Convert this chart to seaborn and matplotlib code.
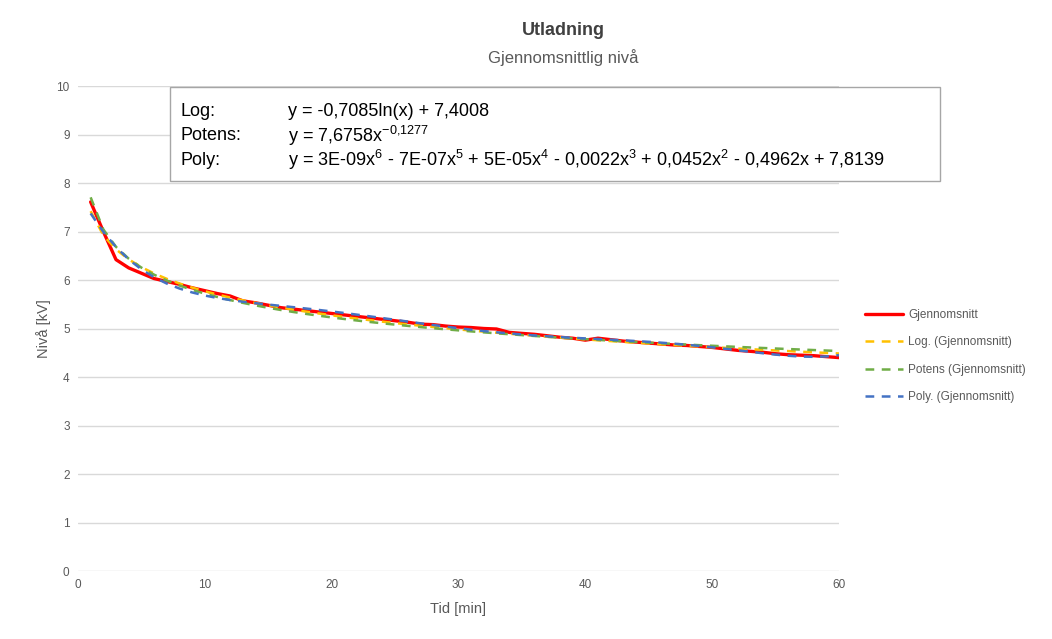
import numpy as np
import pandas as pd
import matplotlib
matplotlib.use("Agg")
import matplotlib.pyplot as plt
import seaborn as sns

# average level per minute
minutes = list(range(1, 61))
avg_level = [7.61, 7.00, 6.42, 6.25, 6.14, 6.03, 5.97, 5.91, 5.84, 5.78,
             5.72, 5.67, 5.57, 5.53, 5.48, 5.43, 5.40, 5.37, 5.34, 5.31,
             5.28, 5.25, 5.22, 5.19, 5.16, 5.13, 5.09, 5.08, 5.05, 5.03,
             5.02, 5.00, 4.99, 4.92, 4.90, 4.88, 4.85, 4.82, 4.80, 4.76,
             4.80, 4.77, 4.74, 4.72, 4.70, 4.68, 4.66, 4.65, 4.63, 4.61,
             4.58, 4.55, 4.53, 4.51, 4.48, 4.46, 4.45, 4.44, 4.42, 4.40]

series_names = ["Gjennomsnitt", "Log. (Gjennomsnitt)",
                "Potens (Gjennomsnitt)", "Poly. (Gjennomsnitt)"]
colors = ["#FF0000", "#FFC000", "#70AD47", "#4472C4"]
x_ticks = [0, 10, 20, 30, 40, 50, 60]
y_ticks = list(range(0, 11))

sns.set_theme(style="white")
plt.rcParams['font.family'] = ['Liberation Sans', 'DejaVu Sans']
plt.rcParams['mathtext.default'] = 'regular'

x = np.array(minutes, dtype=float)
y = np.array(avg_level)

# trend lines fitted to the data, as the spreadsheet does
a_log, b_log = np.polyfit(np.log(x), y, 1)
p_pow, lnk = np.polyfit(np.log(x), np.log(y), 1)
poly = np.polyfit(x, y, 6)

df = pd.DataFrame({
    "Tid": np.tile(x, 4),
    "Niva": np.concatenate([y,
                            a_log * np.log(x) + b_log,
                            np.exp(lnk) * x ** p_pow,
                            np.polyval(poly, x)]),
    "Serie": np.repeat(series_names, len(x)),
})

fig = plt.figure(figsize=(10.52, 6.39), dpi=100)
ax = fig.add_axes([0.0741, 0.1064, 0.7234, 0.759])

palette = dict(zip(series_names, colors))
for name in series_names:
    sub = df[df["Serie"] == name]
    if name == "Gjennomsnitt":
        sns.lineplot(data=sub, x="Tid", y="Niva", color=palette[name], lw=2.4,
                     label=name, ax=ax, zorder=2)
    else:
        sns.lineplot(data=sub, x="Tid", y="Niva", color=palette[name], lw=1.8,
                     label=name, ax=ax, zorder=3, dashes=False,
                     linestyle=(0, (3.5, 3)))

ax.set_xlim(0, 60)
ax.set_ylim(0, 10)
ax.set_xticks(x_ticks)
ax.set_yticks(y_ticks)
ax.tick_params(axis="both", colors="#595959", labelsize=8.5, length=0, pad=6)
ax.yaxis.grid(True, color="#D9D9D9", lw=1)
ax.xaxis.grid(False)
for s in ax.spines.values():
    s.set_visible(False)
ax.set_xlabel("Tid [min]", color="#595959", fontsize=10.5, labelpad=8)
ax.set_ylabel("Nivå [kV]", color="#595959", fontsize=10.5, labelpad=4)

fig.text(0.5357, 0.953, "Utladning", ha="center", va="center",
         fontsize=13, fontweight="bold", color="#404040")
fig.text(0.5357, 0.910, "Gjennomsnittlig nivå", ha="center", va="center",
         fontsize=12, color="#595959")

# equation box
eq_rows = [("Log:", "y = -0,7085ln(x) + 7,4008"),
           ("Potens:", "y = 7,6758x$^{-0{,}1277}$"),
           ("Poly:", "y = 3E-09x$^{6}$ - 7E-07x$^{5}$ + 5E-05x$^{4}$ - 0,0022x$^{3}$ + 0,0452x$^{2}$ - 0,4962x + 7,8139")]
box = plt.Rectangle((170 / 1052, 1 - 181 / 639), 770 / 1052, 94 / 639,
                    transform=fig.transFigure, fill=True, facecolor="white",
                    edgecolor="#A6A6A6", lw=1, zorder=5)
fig.patches.append(box)
for i, (lab, eq) in enumerate(eq_rows):
    yy = 1 - (112 + i * 24) / 639
    fig.text(180 / 1052, yy, lab, fontsize=13, color="black", va="center", zorder=6)
    fig.text(288 / 1052, yy, eq, fontsize=13, color="black",
             va="center", zorder=6)

leg = ax.legend(loc="center left", bbox_to_anchor=(1.02, 0.443), frameon=False,
                fontsize=8.5, labelcolor="#595959", handlelength=3.2,
                handletextpad=0.5, labelspacing=1.3)

fig.savefig("out.png", dpi=100)
